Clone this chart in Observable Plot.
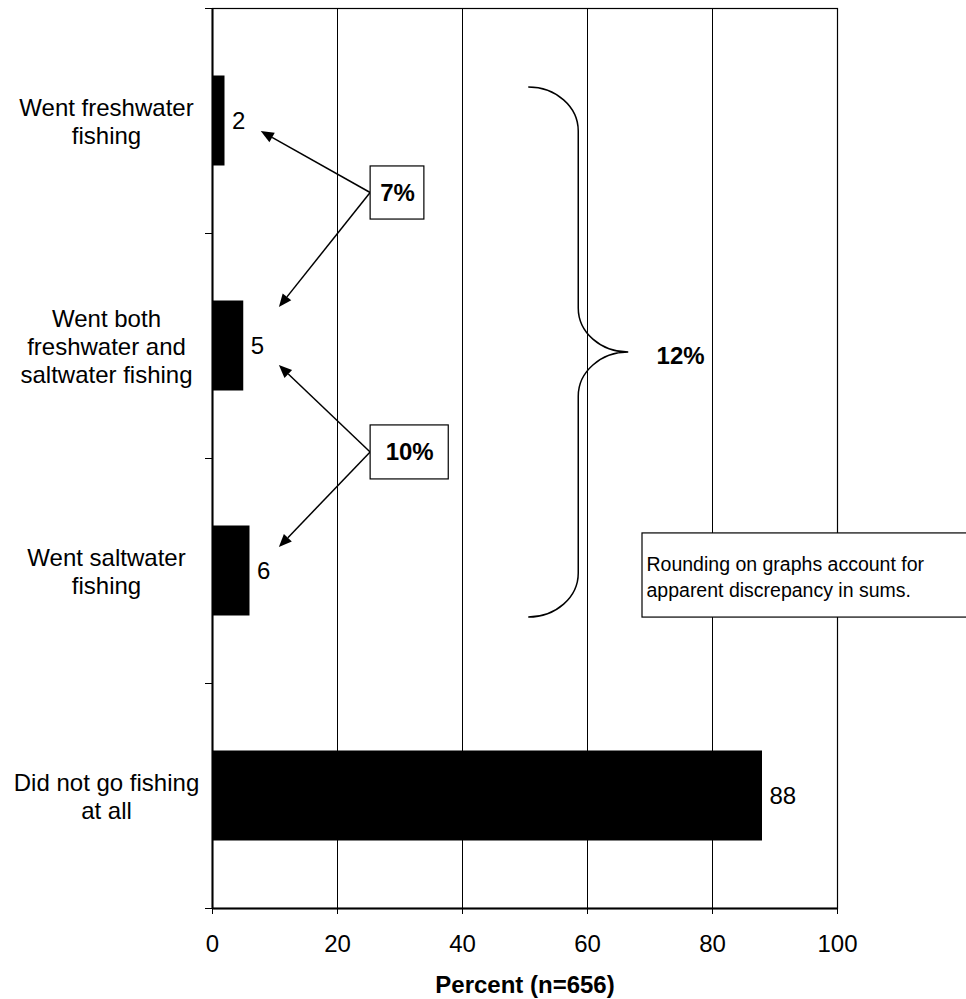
<!DOCTYPE html>
<html>
<head>
<meta charset="utf-8">
<script src="https://cdn.jsdelivr.net/npm/d3@7"></script>
<script src="https://cdn.jsdelivr.net/npm/@observablehq/plot@0.6"></script>
<style>
  html, body { margin: 0; padding: 0; background: #fff; overflow: hidden; }
</style>
</head>
<body>
<div id="chart"></div>
<script>
// Fishing participation, percent of respondents
const categories = [
  "Went freshwater\nfishing",
  "Went both\nfreshwater and\nsaltwater fishing",
  "Went saltwater\nfishing",
  "Did not go fishing\nat all"
];
const percents = [2, 5, 6, 88];
const xTicks = [0, 20, 40, 60, 80, 100];
const axisTitle = "Percent (n=656)";
const pairLabels = ["7%", "10%"];
const totalLabel = "12%";
const noteText = "Rounding on graphs account for\napparent discrepancy in sums.";

const rows = categories.map((category, index) => ({category, index, value: percents[index]}));

// Categories sit at integer positions; separators fall halfway between them.
const yDomain = [-0.5, categories.length - 0.5];
const separators = d3.range(categories.length + 1).map(i => i - 0.5);
const halfBar = 0.2;

// Callout boxes (in chart units) with arrows pointing at the two bars they sum
const callouts = [
  {label: pairLabels[0], x1: 25.3, x2: 33.9, y1: 0.202, y2: 0.438,
   targets: [[7.8, 0.047], [10.7, 0.829]]},
  {label: pairLabels[1], x1: 25.3, x2: 37.8, y1: 1.353, y2: 1.593,
   targets: [[10.7, 1.087], [10.7, 1.896]]}
];

// Brace grouping the three fishing categories
const brace = {x0: 50.6, xv: 58.6, xt: 66.6, yTop: -0.149, yMid: 1.029, yBot: 2.207, curve: 0.196};

function arrows(index, {x, y}) {
  const g = d3.create("svg:g");
  for (const c of callouts) {
    const sx = x(c.x1), sy = y((c.y1 + c.y2) / 2);
    for (const [tx, ty] of c.targets) {
      const ex = x(tx), ey = y(ty);
      const a = Math.atan2(ey - sy, ex - sx);
      const L = 13, W = 5.5;
      const bx = ex - L * Math.cos(a), by = ey - L * Math.sin(a);
      g.append("line")
        .attr("x1", sx).attr("y1", sy).attr("x2", bx).attr("y2", by)
        .attr("stroke", "black").attr("stroke-width", 1.5);
      g.append("path")
        .attr("d", `M${ex},${ey}L${bx + W * Math.sin(a)},${by - W * Math.cos(a)}L${bx - W * Math.sin(a)},${by + W * Math.cos(a)}Z`)
        .attr("fill", "black");
    }
  }
  return g.node();
}

function braceMark(index, {x, y}) {
  const X0 = x(brace.x0), XV = x(brace.xv), XT = x(brace.xt);
  const YT = y(brace.yTop), YM = y(brace.yMid), YB = y(brace.yBot);
  const rx = XV - X0, ry = y(brace.curve) - y(0);
  const d = `M${X0},${YT}A${rx},${ry} 0 0 1 ${XV},${YT + ry}` +
            `L${XV},${YM - ry}A${rx},${ry} 0 0 0 ${XT},${YM}` +
            `A${rx},${ry} 0 0 0 ${XV},${YM + ry}` +
            `L${XV},${YB - ry}A${rx},${ry} 0 0 1 ${X0},${YB}`;
  return d3.create("svg:path")
    .attr("d", d).attr("fill", "none")
    .attr("stroke", "black").attr("stroke-width", 1.5).node();
}

const chart = Plot.plot({
  width: 966,
  height: 999,
  marginLeft: 212,
  marginRight: 129,
  marginTop: 8,
  marginBottom: 91,
  style: {fontFamily: "'Liberation Sans', Arial, sans-serif", background: "white", overflow: "hidden"},
  x: {domain: [xTicks[0], xTicks[xTicks.length - 1]]},
  y: {domain: yDomain, reverse: true},
  marks: [
    Plot.gridX({ticks: xTicks, stroke: "black", strokeOpacity: 1, strokeWidth: 1}),
    Plot.frame({stroke: "black", strokeWidth: 1.2}),
    Plot.ruleX([0], {stroke: "black", strokeWidth: 2}),
    Plot.ruleY([yDomain[1]], {stroke: "black", strokeWidth: 2}),

    Plot.rectX(rows, {
      x: "value",
      y1: d => d.index - halfBar,
      y2: d => d.index + halfBar,
      fill: "black"
    }),
    Plot.text(rows, {
      x: "value", y: "index", text: d => String(d.value),
      textAnchor: "start", dx: 7, fontSize: 24, fill: "black"
    }),

    braceMark,
    Plot.text([totalLabel], {x: 74.9, y: 1.047, text: d => d, fontSize: 24, fontWeight: "bold", fill: "black"}),

    arrows,
    Plot.rect(callouts, {x1: "x1", x2: "x2", y1: "y1", y2: "y2", fill: "white", stroke: "black", strokeWidth: 1.2}),
    Plot.text(callouts, {
      x: d => (d.x1 + d.x2) / 2, y: d => (d.y1 + d.y2) / 2, text: "label",
      fontSize: 24, fontWeight: "bold", fill: "black"
    }),

    Plot.rect([noteText], {x1: 68.8, x2: 125, y1: 1.833, y2: 2.207, fill: "white", stroke: "black", strokeWidth: 1.2}),
    Plot.text([noteText], {
      x: 68.8, y: 2.02, text: d => d, textAnchor: "start", dx: 4,
      fontSize: 19.5, lineHeight: 1.33, lineAnchor: "middle", fill: "black"
    }),

    Plot.axisX({ticks: xTicks, tickSize: 6, tickPadding: 20, fontSize: 24, label: null, stroke: "black"}),
    Plot.axisY({ticks: separators, tickSize: 7, tickFormat: () => "", label: null, stroke: "black"}),
    Plot.axisY({
      ticks: d3.range(categories.length), tickSize: 0, tickPadding: 106,
      textAnchor: "middle", tickFormat: i => categories[i],
      fontSize: 24, lineHeight: 1.17, label: null
    }),
    Plot.text([axisTitle], {
      frameAnchor: "bottom", dy: 67, lineAnchor: "top", text: d => d,
      fontSize: 24, fontWeight: "bold", fill: "black"
    })
  ]
});

document.getElementById("chart").appendChild(chart);
</script>
</body>
</html>
